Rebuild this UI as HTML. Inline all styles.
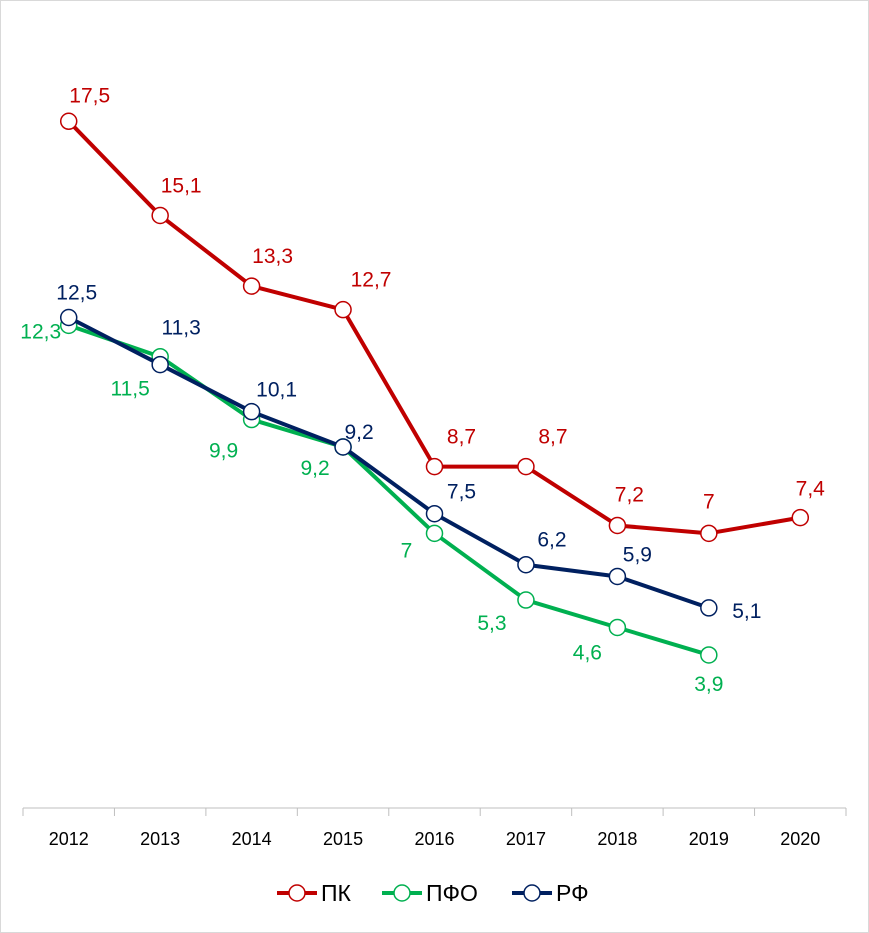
<!DOCTYPE html>
<html><head><meta charset="utf-8"><style>
html,body{margin:0;padding:0;background:#fff}
svg{display:block;font-family:"Liberation Sans",Arial,sans-serif}
</style></head><body>
<svg id="chart" width="869" height="933" viewBox="0 0 869 933">
<rect x="0.5" y="0.5" width="868" height="932" fill="#fff" stroke="#d9d9d9"/>
<g id="plot"></g>
<g id="legend"></g>
</svg>
<script>
const categories = ["2012","2013","2014","2015","2016","2017","2018","2019","2020"];
const pkValues = [17.5,15.1,13.3,12.7,8.7,8.7,7.2,7,7.4];
const pfoValues = [12.3,11.5,9.9,9.2,7,5.3,4.6,3.9,null];
const rfValues = [12.5,11.3,10.1,9.2,7.5,6.2,5.9,5.1,null];
const pkLabels = ["17,5","15,1","13,3","12,7","8,7","8,7","7,2","7","7,4"];
const pfoLabels = ["12,3","11,5","9,9","9,2","7","5,3","4,6","3,9",""];
const rfLabels = ["12,5","11,3","10,1","9,2","7,5","6,2","5,9","5,1",""];
const seriesNames = ["ПК","ПФО","РФ"];

const NS="http://www.w3.org/2000/svg";
const x0=23,x1=846,yZero=808,pxPerUnit=39.24;
const band=(x1-x0)/categories.length;
function xS(i){return x0+band*(i+0.5);}
function yS(v){return yZero-v*pxPerUnit;}
const plot=document.getElementById('plot');
function mk(tag,attrs,parent){const e=document.createElementNS(NS,tag);for(const k in attrs)e.setAttribute(k,attrs[k]);(parent||plot).appendChild(e);return e;}

const ax=mk('line',{x1:x0,y1:yZero,x2:x1,y2:yZero,stroke:'#bfbfbf','stroke-width':1});


for(let i=0;i<=categories.length;i++){
  const tx=x0+band*i;
  const t=mk('line',{x1:tx,y1:yZero,x2:tx,y2:yZero+8,stroke:'#bfbfbf'});
  
  
}
categories.forEach((c,i)=>{
  const t=mk('text',{x:xS(i),y:845,'text-anchor':'middle','font-size':18,fill:'#000'});
  t.textContent=c;
  
  
});

const pkDx=[21,21,21,28,27,27,12,0,10], pkDy=[-26,-30,-30,-30,-30,-30,-31,-32,-29];
const pfoDx=[-28,-30,-28,-28,-28,-34,-30,0,0], pfoDy=[6,32,31,21,17,23,25,29,0];
const rfDx=[8,21,25,16,27,26,20,38,0], rfDy=[-25,-37,-22,-15,-22,-25,-22,3,0];

function drawSeries(vals,labels,color,name,dx,dy){
  const pts=[];vals.forEach((v,i)=>{if(v!==null)pts.push([xS(i),yS(v)]);});
  const pl=mk('polyline',{points:pts.map(p=>p.join(',')).join(' '),fill:'none',stroke:color,'stroke-width':4,'stroke-linejoin':'round'});
  
  
  vals.forEach((v,i)=>{
    if(v===null)return;
    const c=mk('circle',{cx:xS(i),cy:yS(v),r:8,fill:'#fff',stroke:color,'stroke-width':1.5});
    
    
  });
  vals.forEach((v,i)=>{
    if(v===null)return;
    const t=mk('text',{x:xS(i)+dx[i],y:yS(v)+dy[i]+7,'text-anchor':'middle','font-size':21,fill:color});
    t.textContent=labels[i];
    
    
  });
}
drawSeries(pfoValues,pfoLabels,'#00B050','pfo',pfoDx,pfoDy);
drawSeries(rfValues,rfLabels,'#002060','rf',rfDx,rfDy);
drawSeries(pkValues,pkLabels,'#C00000','pk',pkDx,pkDy);

const lg=document.getElementById('legend');
const legColors=['#C00000','#00B050','#002060'];
const legX=[277,382,512];
seriesNames.forEach((n,i)=>{
  const g=mk('g',{},lg);
  
  
  mk('line',{x1:legX[i],y1:893,x2:legX[i]+40,y2:893,stroke:legColors[i],'stroke-width':4},g);
  mk('circle',{cx:legX[i]+20,cy:893,r:8,fill:'#fff',stroke:legColors[i],'stroke-width':1.5},g);
  const t=mk('text',{x:legX[i]+44,y:901,'font-size':23,fill:'#000'},g);
  t.textContent=n;
});
</script>
</body></html>
